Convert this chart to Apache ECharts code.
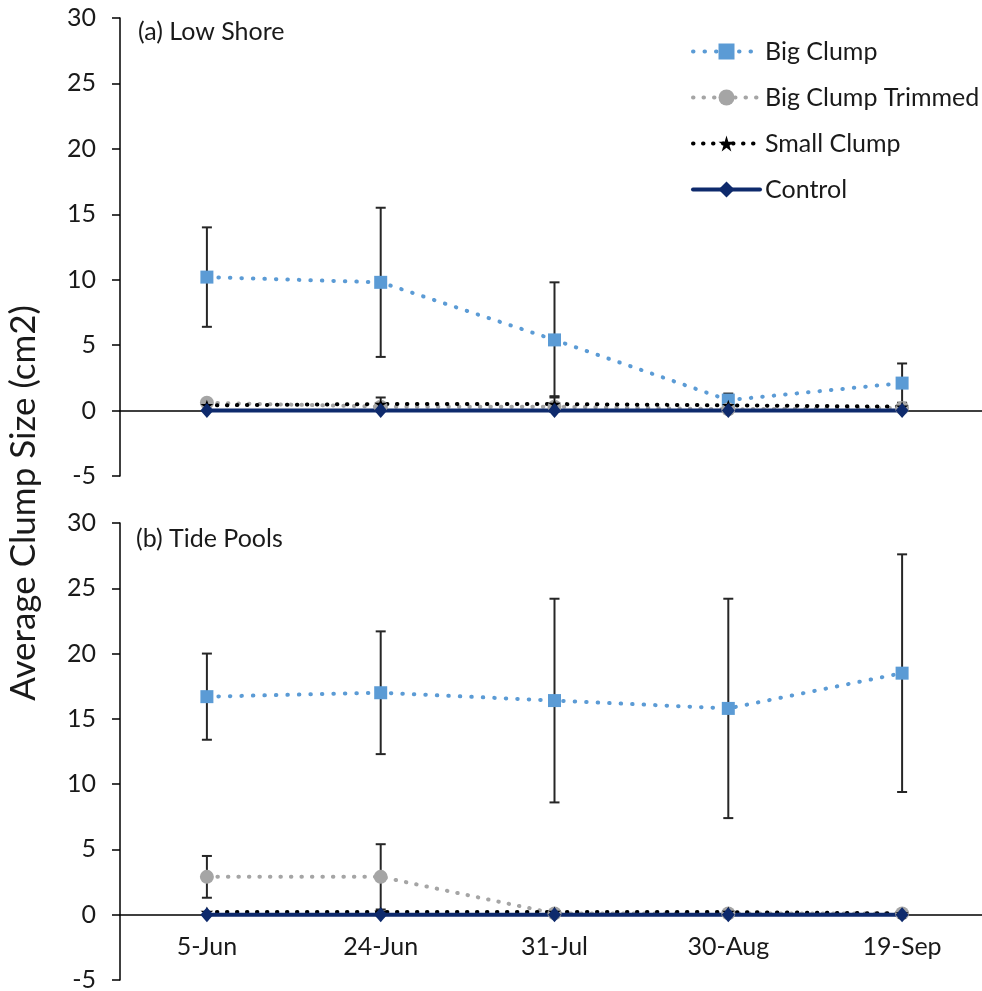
<!DOCTYPE html>
<html>
<head>
<meta charset="utf-8">
<script src="https://cdn.jsdelivr.net/npm/echarts@6/dist/echarts.min.js"></script>
<style>
  html, body { margin: 0; padding: 0; background: #fff; }
  #chart { width: 982px; height: 991px; }
</style>
</head>
<body>
<div id="chart"></div>
<script>
// Sampling dates
const categories = ['5-Jun', '24-Jun', '31-Jul', '30-Aug', '19-Sep'];
const yTicks = [-5, 0, 5, 10, 15, 20, 25, 30];

// (a) Low Shore: mean clump size and standard error
const lowBig = [10.2, 9.8, 5.4, 0.8, 2.1];
const lowBigErr = [3.8, 5.7, 4.4, 0.5, 1.5];
const lowTrim = [0.6, 0.3, 0.3, 0.1, 0.2];
const lowTrimErr = [0, 0, 0, 0, 0];
const lowSmall = [0.4, 0.5, 0.5, 0.4, 0.3];
const lowSmallErr = [0, 0.5, 0.6, 0, 0];
const lowCtrl = [0, 0, 0, 0, 0];

// (b) Tide Pools: mean clump size and standard error
const poolBig = [16.7, 17.0, 16.4, 15.8, 18.5];
const poolBigErr = [3.3, 4.7, 7.8, 8.4, 9.1];
const poolTrim = [2.9, 2.9, 0.1, 0.1, 0.1];
const poolTrimErr = [1.6, 2.5, 0, 0, 0];
const poolSmall = [0.2, 0.2, 0.2, 0.2, 0.1];
const poolSmallErr = [0, 0, 0, 0, 0];
const poolCtrl = [0, 0, 0, 0, 0];

const FONT = 'Lato';
const TXT = '#1a1a1a';
const COL_BIG = '#5B9BD5';
const COL_TRIM = '#A5A5A5';
const COL_SMALL = '#000000';
const COL_CTRL = '#0E2A6C';
const STAR = 'path://M50,0 L61,35 L98,35 L68,57 L79,91 L50,70 L21,91 L32,57 L2,35 L39,35 Z';

const grids = [
  { left: 120, top: 18, width: 869, height: 458 },
  { left: 120, top: 523, width: 869, height: 457 }
];

function lineSeries(name, data, panel, opts) {
  return Object.assign({
    name: name,
    type: 'line',
    xAxisIndex: panel,
    yAxisIndex: panel,
    data: data,
    animation: false,
    z: 3
  }, opts);
}

function seriesSet(panel, big, trim, small, ctrl) {
  return [
    lineSeries('Big Clump', big, panel, {
      symbol: 'rect', symbolSize: 13,
      itemStyle: { color: COL_BIG },
      lineStyle: { color: COL_BIG, width: 4, type: [0.5, 11], cap: 'round' }
    }),
    lineSeries('Big Clump Trimmed', trim, panel, {
      symbol: 'circle', symbolSize: 14,
      itemStyle: { color: COL_TRIM },
      lineStyle: { color: COL_TRIM, width: 4, type: [0.5, 10], cap: 'round' }
    }),
    lineSeries('Small Clump', small, panel, {
      symbol: STAR, symbolSize: [13, 11],
      itemStyle: { color: COL_SMALL },
      lineStyle: { color: COL_SMALL, width: 4, type: [0.5, 9.5], cap: 'round' }
    }),
    lineSeries('Control', ctrl, panel, {
      symbol: 'diamond', symbolSize: [13, 15],
      itemStyle: { color: COL_CTRL },
      lineStyle: { color: COL_CTRL, width: 4, type: 'solid' }
    })
  ];
}

// Vertical error bars with caps, drawn from mean +/- error
function errorBars(panel, vals, errs) {
  const data = [];
  vals.forEach((v, i) => { if (errs[i] > 0) data.push([i, v - errs[i], v + errs[i]]); });
  return {
    type: 'custom',
    xAxisIndex: panel,
    yAxisIndex: panel,
    silent: true,
    animation: false,
    z: 2,
    data: data,
    encode: { x: 0, y: [1, 2] },
    renderItem: function (params, api) {
      const hi = api.coord([api.value(0), api.value(2)]);
      const lo = api.coord([api.value(0), api.value(1)]);
      const hw = 5;
      const st = { stroke: '#262626', lineWidth: 2 };
      return {
        type: 'group',
        children: [
          { type: 'line', shape: { x1: hi[0], y1: hi[1], x2: lo[0], y2: lo[1] }, style: st },
          { type: 'line', shape: { x1: hi[0] - hw, y1: hi[1], x2: hi[0] + hw, y2: hi[1] }, style: st },
          { type: 'line', shape: { x1: lo[0] - hw, y1: lo[1], x2: lo[0] + hw, y2: lo[1] }, style: st }
        ]
      };
    }
  };
}

// Category axis lifted from the grid bottom up to the y = 0 level
function xAxis(panel, showLabels) {
  const yMin = yTicks[0], yMax = yTicks[yTicks.length - 1];
  const lift = grids[panel].height * (0 - yMin) / (yMax - yMin);
  return {
    type: 'category',
    gridIndex: panel,
    position: 'bottom',
    offset: -lift,
    data: categories,
    boundaryGap: true,
    axisLine: { show: true, onZero: false, lineStyle: { color: '#000', width: 1.5 } },
    axisTick: { show: false },
    axisLabel: { show: showLabels, margin: 20, fontFamily: FONT, fontSize: 25, color: TXT },
    splitLine: { show: false }
  };
}

function yAxis(panel) {
  return {
    type: 'value',
    gridIndex: panel,
    min: yTicks[0],
    max: yTicks[yTicks.length - 1],
    interval: yTicks[1] - yTicks[0],
    axisLine: { show: true, lineStyle: { color: '#000', width: 1.5 } },
    axisTick: { show: true, inside: false, length: 8, lineStyle: { color: '#000', width: 1.5 } },
    axisLabel: { margin: 24, fontFamily: FONT, fontSize: 25, color: TXT },
    splitLine: { show: false }
  };
}

const chart = echarts.init(document.getElementById('chart'), null, { renderer: 'canvas' });
chart.setOption({
  backgroundColor: '#ffffff',
  animation: false,
  grid: grids.map(g => Object.assign({ outerBoundsMode: 'none', containLabel: false }, g)),
  xAxis: [xAxis(0, false), xAxis(1, true)],
  yAxis: [yAxis(0), yAxis(1)],
  legend: {
    orient: 'vertical',
    left: 686,
    top: 33,
    itemWidth: 67,
    itemHeight: 20,
    itemGap: 19,
    data: ['Big Clump', 'Big Clump Trimmed', 'Small Clump', 'Control'],
    lineStyle: { width: 4, cap: 'round' },
    textStyle: { fontFamily: FONT, fontSize: 25, color: TXT, lineHeight: 27 }
  },
  graphic: [
    {
      type: 'text', x: 24, y: 503, rotation: Math.PI / 2,
      style: { text: 'Average Clump Size (cm2)', fontFamily: FONT, fontSize: 35, fill: TXT,
               textAlign: 'center', textVerticalAlign: 'middle' }
    },
    {
      type: 'text', x: 138, y: 32,
      style: { text: '(a) Low Shore', fontFamily: FONT, fontSize: 25, fill: TXT,
               textAlign: 'left', textVerticalAlign: 'middle' }
    },
    {
      type: 'text', x: 136, y: 539,
      style: { text: '(b) Tide Pools', fontFamily: FONT, fontSize: 25, fill: TXT,
               textAlign: 'left', textVerticalAlign: 'middle' }
    }
  ],
  series: [].concat(
    errorBars(0, lowBig, lowBigErr),
    errorBars(0, lowTrim, lowTrimErr),
    errorBars(0, lowSmall, lowSmallErr),
    seriesSet(0, lowBig, lowTrim, lowSmall, lowCtrl),
    errorBars(1, poolBig, poolBigErr),
    errorBars(1, poolTrim, poolTrimErr),
    errorBars(1, poolSmall, poolSmallErr),
    seriesSet(1, poolBig, poolTrim, poolSmall, poolCtrl)
  )
});
</script>
</body>
</html>
